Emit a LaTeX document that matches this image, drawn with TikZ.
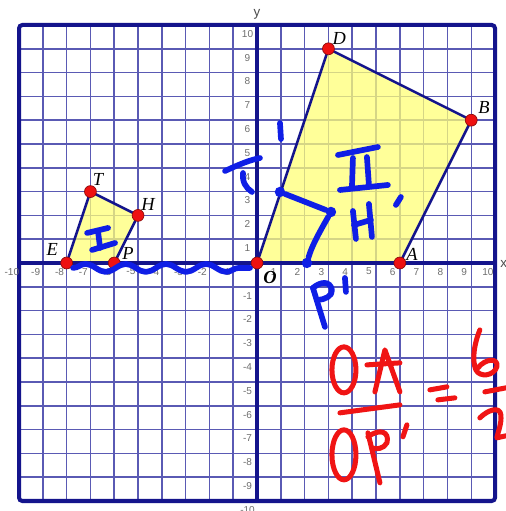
\documentclass[tikz,border=0pt]{standalone}
\usepackage{fontspec}
\setmainfont{Liberation Serif}
\setsansfont{Liberation Sans}
\usepackage{tikz}
\usetikzlibrary{decorations.pathmorphing}
\definecolor{gridblue}{HTML}{5A5AB4}
\definecolor{navy}{HTML}{14148C}
\definecolor{quadfill}{HTML}{FFFF77}
\definecolor{dotred}{HTML}{EE1111}
\definecolor{dotrim}{HTML}{8C0A0A}
\definecolor{tickgray}{HTML}{6E6E6E}
\definecolor{penblue}{HTML}{0F1EE6}
\definecolor{penred}{HTML}{F01414}
\tikzset{
  gridline/.style={draw=gridblue, line width=0.9pt},
  axisline/.style={draw=navy, line width=2.1pt},
  quadshape/.style={draw=navy, line width=1.5pt, fill=quadfill, fill opacity=0.75},
  vertexdot/.style={circle, fill=dotred, draw=dotrim, line width=0.4pt,
    inner sep=0pt, minimum size=0.25cm},
  vertexlabel/.style={font=\fontsize{11}{11}\selectfont\itshape, inner sep=0pt},
  ticklabel/.style={font=\sffamily\fontsize{6}{6}\selectfont, text=tickgray, inner sep=0pt},
  axisname/.style={font=\sffamily\fontsize{8}{8}\selectfont, text=black!70, inner sep=0pt},
  bluepen/.style={draw=penblue, line width=3.4pt, line cap=round, line join=round},
  redpen/.style={draw=penred, line width=3pt, line cap=round, line join=round},
  inkdot/.style={circle, fill=penblue, inner sep=0pt, minimum size=0.22cm},
}
\begin{document}
\begin{tikzpicture}[x=0.5cm, y=0.5cm]
  \useasboundingbox (-10.8,-10.42) rectangle (10.42,11.05);
  \fill[white] (-10.8,-10.42) rectangle (10.42,11.05);

  \foreach \k in {-9,...,9} {
    \draw[gridline] (\k,-10) -- (\k,10);
    \draw[gridline] (-10,\k) -- (10,\k);
  }

  \coordinate (E) at (-8,0);
  \coordinate (T) at (-7,3);
  \coordinate (H) at (-5,2);
  \coordinate (P) at (-6,0);
  \coordinate (O) at (0,0);
  \coordinate (A) at (6,0);
  \coordinate (B) at (9,6);
  \coordinate (D) at (3,9);

  \path[quadshape] (E) -- (T) -- (H) -- (P) -- cycle;
  \path[quadshape] (O) -- (A) -- (B) -- (D) -- cycle;

  \draw[axisline] (-10,0) -- (10,0);
  \draw[axisline] (0,-10) -- (0,10);
  \draw[axisline, line width=2.4pt, rounded corners=2pt] (-10,-10) rectangle (10,10);

  \foreach \k in {-10,...,-1,1,2,...,10} {
    \node[ticklabel] at (\k-0.3,-0.36) {\k};
    \node[ticklabel] at (-0.4,\k-0.37) {\k};
  }
  \node[axisname] (yname) at (0,10.45) {y};
  \node[axisname] (xname) at (10.36,-0.04) {x};

  \foreach \v in {E,T,H,P,O,A,B,D}
    \node[vertexdot] (\v dot) at (\v) {};

  \node[vertexlabel] (Elbl) at (-8.61,0.55) {E};
  \node[vertexlabel] (Tlbl) at (-6.68,3.49) {T};
  \node[vertexlabel] (Hlbl) at (-4.58,2.44) {H};
  \node[vertexlabel] (Plbl) at (-5.42,0.42) {P};
  \node[vertexlabel] (Olbl) at (0.55,-0.63) {\bfseries O};
  \node[vertexlabel] (Albl) at (6.51,0.38) {A};
  \node[vertexlabel] (Blbl) at (9.54,6.55) {B};
  \node[vertexlabel] (Dlbl) at (3.45,9.45) {D};

  \begin{scope}[shift={(-5.397cm,5.523cm)}, x=0.021cm, y=-0.021cm]
    \node[inkdot] (Tp) at (280,192) {};
    \node[inkdot] (Hp) at (331,212) {};
    \node[inkdot] (Pp) at (307,263) {};
    \draw[bluepen] (Tp) -- (Hp);
    \draw[bluepen] (Hp) .. controls (322,228) and (312,245) .. (Pp);

    \draw[bluepen] (225,171) .. controls (240,164) and (250,160) .. (260,158);
    \draw[bluepen] (243,173) .. controls (242,182) and (246,188) .. (252,192);
    \draw[bluepen] (280,123) -- (281,139);

    \draw[bluepen] (338,155) -- (378,147);
    \draw[bluepen] (353,158) -- (352,188);
    \draw[bluepen] (367,157) -- (369,185);
    \draw[bluepen] (340,190) -- (388,185);

    \draw[bluepen] (353,211) -- (356,239);
    \draw[bluepen] (369,204) -- (372,237);
    \draw[bluepen] (354,225) -- (371,220);
    \draw[bluepen] (396,205) -- (401,197);

    \draw[bluepen] (313,288) -- (325,327);
    \draw[bluepen] (313,288) .. controls (320,282) and (330,280) .. (332,290)
      .. controls (333,296) and (324,300) .. (318,300);
    \draw[bluepen] (345,278) -- (346,292);

    \draw[bluepen] (87,233) -- (108,228);
    \draw[bluepen] (98,232) -- (100,248);
    \draw[bluepen] (92,250) -- (115,243);

    \draw[bluepen, decorate, decoration={snake, amplitude=2.4pt, segment length=24pt}]
      (73,268) -- (250,268);

    \draw[redpen] (344,370) ellipse [x radius=12, y radius=23];
    \draw[redpen] (375,392) -- (385,350) -- (400,392);
    \draw[redpen] (367,365) -- (400,363);
    \draw[redpen] (340,413) -- (400,405);
    \draw[redpen] (344,455) ellipse [x radius=12, y radius=25];
    \draw[redpen] (368,433) -- (380,483);
    \draw[redpen] (368,437) .. controls (380,428) and (390,432) .. (387,443)
      .. controls (384,449) and (376,450) .. (372,448);
    \draw[redpen] (407,425) -- (403,437);
    \draw[redpen] (430,390) -- (447,387);
    \draw[redpen] (438,400) -- (455,398);
    \draw[redpen] (480,330) .. controls (474,345) and (472,360) .. (476,370)
      .. controls (480,378) and (494,376) .. (497,367)
      .. controls (499,358) and (486,358) .. (478,368);
    \draw[redpen] (485,392) -- (506,388);
    \draw[redpen] (480,418) .. controls (488,410) and (500,406) .. (501,415)
      .. controls (502,424) and (498,432) .. (497,438) -- (506,436);
  \end{scope}
\end{tikzpicture}
\end{document}
